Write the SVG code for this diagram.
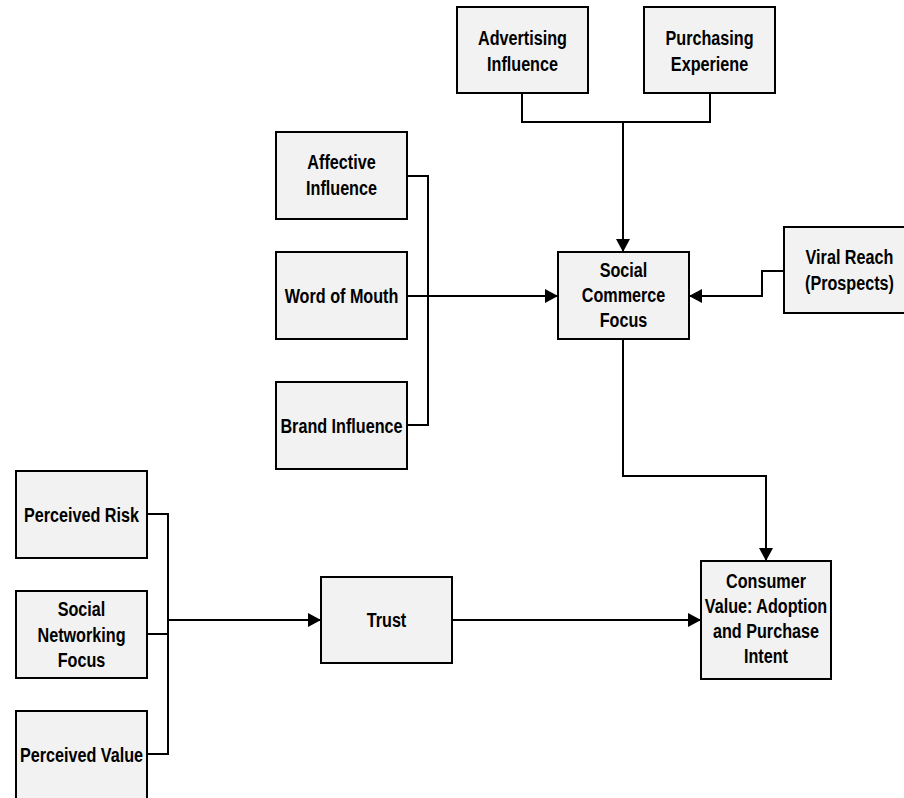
<svg xmlns="http://www.w3.org/2000/svg" width="904" height="798" viewBox="0 0 904 798">
<style>
.box{fill:#f2f2f2;stroke:#000;stroke-width:2}
.c{fill:none;stroke:#000;stroke-width:2}
.t{font-family:"Liberation Sans",Arial,sans-serif;font-weight:bold;font-size:21px;text-anchor:middle;fill:#000}
</style>
<defs>
<marker id="ah" markerUnits="userSpaceOnUse" markerWidth="14" markerHeight="14" refX="13" refY="7" orient="auto">
<path d="M0,0 L13,7 L0,14 z" fill="#000"/>
</marker>
</defs>
<rect width="904" height="798" fill="#fff"/>
<g id="connectors">
<path class="c" d="M522,93 V122 H710 V93"/>
<path class="c" d="M623,122 V252" marker-end="url(#ah)"/>
<path class="c" d="M407,176 H428 V425 H407"/>
<path class="c" d="M407,296 H558" marker-end="url(#ah)"/>
<path class="c" d="M784,271 H762 V296 H689" marker-end="url(#ah)"/>
<path class="c" d="M623,339 V476 H766 V561" marker-end="url(#ah)"/>
<path class="c" d="M147,514 H168 V754 H147"/>
<path class="c" d="M147,634 H168"/>
<path class="c" d="M168,620 H321" marker-end="url(#ah)"/>
<path class="c" d="M452,620 H701" marker-end="url(#ah)"/>
</g>
<g id="advertising">
<rect class="box" x="457" y="7" width="131" height="86"/>
<text class="t" transform="translate(522.5,0) scale(0.77,1)"><tspan x="0" y="45">Advertising</tspan><tspan x="0" y="71">Influence</tspan></text>
</g>
<g id="purchasing">
<rect class="box" x="644" y="7" width="131" height="86"/>
<text class="t" transform="translate(709.5,0) scale(0.77,1)"><tspan x="0" y="45">Purchasing</tspan><tspan x="0" y="71">Experiene</tspan></text>
</g>
<g id="affective">
<rect class="box" x="276" y="132" width="131" height="87"/>
<text class="t" transform="translate(341.5,0) scale(0.77,1)"><tspan x="0" y="169">Affective</tspan><tspan x="0" y="195">Influence</tspan></text>
</g>
<g id="wordofmouth">
<rect class="box" x="276" y="252" width="131" height="87"/>
<text class="t" transform="translate(341.5,0) scale(0.77,1)"><tspan x="0" y="303">Word of Mouth</tspan></text>
</g>
<g id="brand">
<rect class="box" x="276" y="382" width="131" height="87"/>
<text class="t" transform="translate(341.5,0) scale(0.77,1)"><tspan x="0" y="433">Brand Influence</tspan></text>
</g>
<g id="socialcommerce">
<rect class="box" x="558" y="252" width="131" height="87"/>
<text class="t" transform="translate(623.5,0) scale(0.77,1)"><tspan x="0" y="277">Social</tspan><tspan x="0" y="302">Commerce</tspan><tspan x="0" y="327">Focus</tspan></text>
</g>
<g id="viral">
<rect class="box" x="784" y="227" width="131" height="86"/>
<text class="t" transform="translate(849.5,0) scale(0.77,1)"><tspan x="0" y="264">Viral Reach</tspan><tspan x="0" y="290">(Prospects)</tspan></text>
</g>
<g id="risk">
<rect class="box" x="16" y="471" width="131" height="87"/>
<text class="t" transform="translate(81.5,0) scale(0.77,1)"><tspan x="0" y="522">Perceived Risk</tspan></text>
</g>
<g id="socialnetworking">
<rect class="box" x="16" y="591" width="131" height="87"/>
<text class="t" transform="translate(81.5,0) scale(0.77,1)"><tspan x="0" y="616">Social</tspan><tspan x="0" y="642">Networking</tspan><tspan x="0" y="667">Focus</tspan></text>
</g>
<g id="value">
<rect class="box" x="16" y="711" width="131" height="90"/>
<text class="t" transform="translate(81.5,0) scale(0.77,1)"><tspan x="0" y="762">Perceived Value</tspan></text>
</g>
<g id="trust">
<rect class="box" x="321" y="577" width="131" height="86"/>
<text class="t" transform="translate(386.5,0) scale(0.77,1)"><tspan x="0" y="627">Trust</tspan></text>
</g>
<g id="consumer">
<rect class="box" x="701" y="561" width="130" height="118"/>
<text class="t" transform="translate(766,0) scale(0.77,1)"><tspan x="0" y="588">Consumer</tspan><tspan x="0" y="613">Value: Adoption</tspan><tspan x="0" y="638">and Purchase</tspan><tspan x="0" y="663">Intent</tspan></text>
</g>
</svg>
